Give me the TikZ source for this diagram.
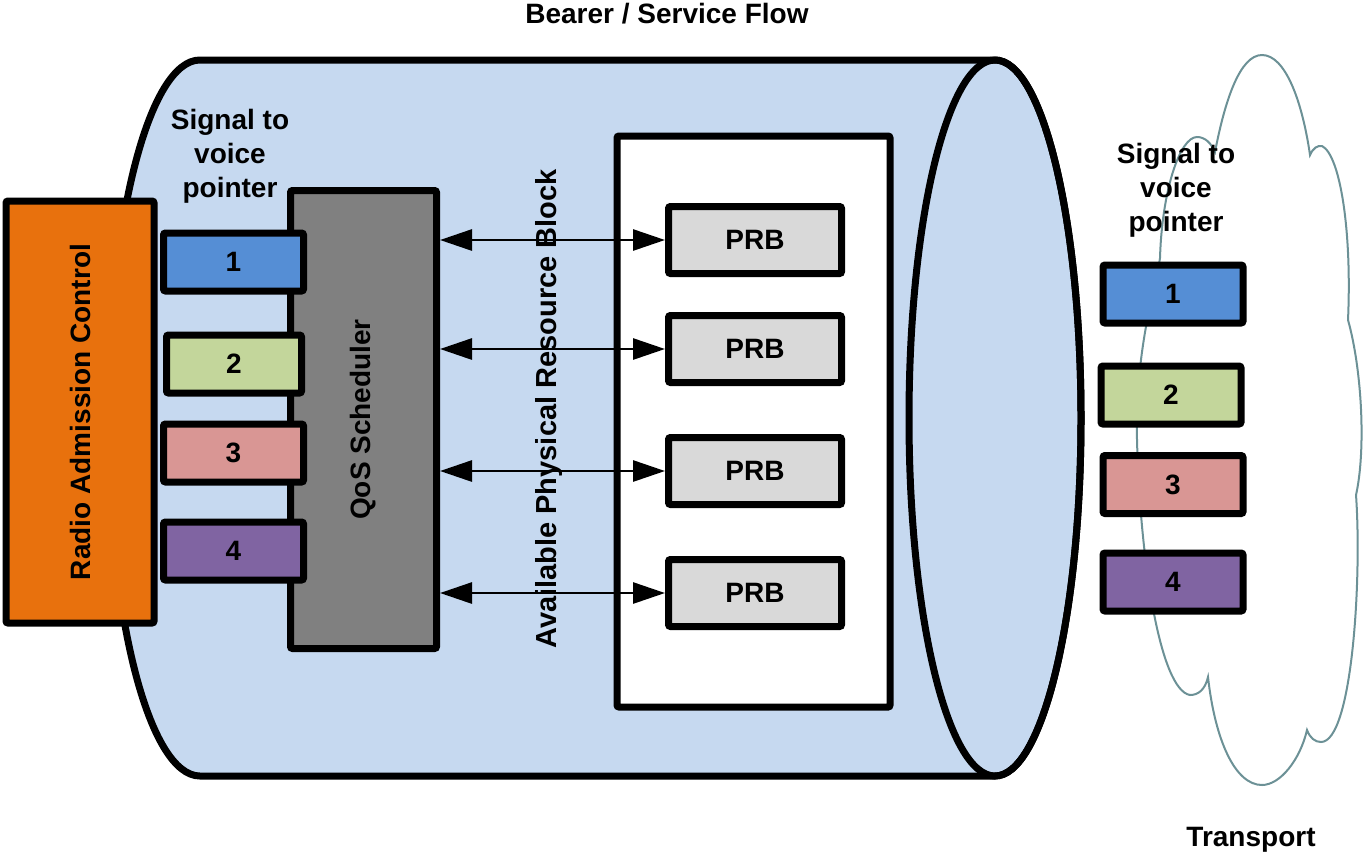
\documentclass[tikz,border=0pt]{standalone}
\usepackage{fontspec}
\setmainfont{Liberation Sans}
\usetikzlibrary{arrows.meta}
\definecolor{bearerblue}{HTML}{C6D9F0}
\definecolor{racorange}{HTML}{E8710D}
\definecolor{qosgray}{HTML}{808080}
\definecolor{prbgray}{HTML}{D9D9D9}
\definecolor{ptrblue}{HTML}{558ED5}
\definecolor{ptrgreen}{HTML}{C3D69B}
\definecolor{ptrpink}{HTML}{D99694}
\definecolor{ptrpurple}{HTML}{8064A2}
\definecolor{cloudline}{HTML}{6C9196}
\begin{document}
\begin{tikzpicture}[x=0.5pt, y=-0.5pt, every node/.style={font=\fontsize{14}{17}\selectfont\bfseries},
  box/.style={draw, line width=3.5pt, rounded corners=1pt, inner sep=0pt},
  ptr/.style={box, minimum width=70pt, minimum height=29pt},
  prb/.style={box, fill=prbgray, minimum width=86.5pt, minimum height=33.5pt},
  link/.style={{Triangle[length=16pt,width=10.5pt]}-{Triangle[length=16pt,width=10.5pt]}, line width=1.4pt}]
\useasboundingbox (0,0) rectangle (1364,858);
\filldraw[fill=bearerblue, line width=3.5pt] (200,60) -- (995,60) arc[start angle=-90, end angle=90, x radius=86, y radius=358] -- (200,776) arc[start angle=90, end angle=270, x radius=92, y radius=358] -- cycle;
\draw[line width=3.5pt] (995,418) ellipse[x radius=86, y radius=358];
\node (bearer) at (667,14) {Bearer / Service Flow};
\node[box, fill=racorange, rotate=90, minimum width=211pt, minimum height=74pt] (rac) at (80,412) {Radio Admission Control};
\node[box, fill=qosgray, rotate=90, minimum width=229pt, minimum height=73pt] (qos) at (363.5,419.5) {QoS Scheduler};
\node[align=center] (sigl) at (230,156) {Signal to\\voice\\pointer};
\node[ptr, fill=ptrblue] (l1) at (233.5,262) {1};
\node[ptr, fill=ptrgreen, minimum width=67.5pt] (l2) at (234,364) {2};
\node[ptr, fill=ptrpink] (l3) at (233.5,453) {3};
\node[ptr, fill=ptrpurple] (l4) at (233.5,551) {4};
\node[box, fill=white, minimum width=136.5pt, minimum height=285.5pt] (pool) at (753.5,421.5) {};
\node[prb] (prb1) at (755,240) {PRB};
\node[prb] (prb2) at (755,349) {PRB};
\node[prb] (prb3) at (755,471) {PRB};
\node[prb] (prb4) at (755,593) {PRB};
\node[rotate=90, font=\fontsize{14.5}{17}\selectfont\bfseries] (avail) at (549,409) {Available Physical Resource Block};
\draw[link] (qos.south |- prb1.west) -- (prb1.west);
\draw[link] (qos.south |- prb2.west) -- (prb2.west);
\draw[link] (qos.south |- prb3.west) -- (prb3.west);
\draw[link] (qos.south |- prb4.west) -- (prb4.west);
\draw[cloudline, line width=1pt] (1160,258) .. controls (1162,190) and (1180,137) .. (1197,137) .. controls (1205,137) and (1211,143) .. (1215,152)
  .. controls (1225,100) and (1240,55) .. (1262,55) .. controls (1285,55) and (1302,100) .. (1310,155)
  .. controls (1313,148) and (1318,145) .. (1322,146) .. controls (1340,155) and (1352,230) .. (1348,320)
  .. controls (1362,370) and (1366,450) .. (1356,495)
  .. controls (1362,580) and (1352,742) .. (1321,742) .. controls (1315,742) and (1310,738) .. (1307,730)
  .. controls (1300,760) and (1280,785) .. (1262,785) .. controls (1235,785) and (1215,740) .. (1208,677)
  .. controls (1205,690) and (1198,695) .. (1190,695) .. controls (1160,690) and (1140,560) .. (1137,440)
  .. controls (1135,350) and (1155,290) .. (1160,258) -- cycle;
\node[align=center] (sigr) at (1176,190) {Signal to\\voice\\pointer};
\node[ptr, fill=ptrblue] (r1) at (1173,294) {1};
\node[ptr, fill=ptrgreen] (r2) at (1171,395) {2};
\node[ptr, fill=ptrpink] (r3) at (1173,484.5) {3};
\node[ptr, fill=ptrpurple] (r4) at (1173,582) {4};
\node (transport) at (1251,840) {Transport};
\end{tikzpicture}
\end{document}
